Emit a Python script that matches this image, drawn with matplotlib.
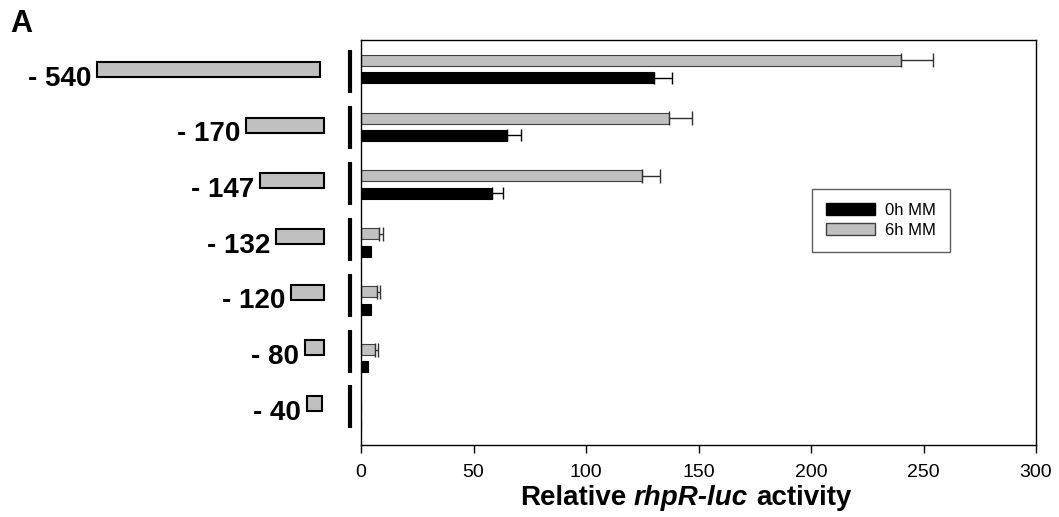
import numpy as np
import matplotlib
matplotlib.use('Agg')
import matplotlib.pyplot as plt
from matplotlib.patches import Patch, Rectangle

plt.rcParams['font.family'] = ['Liberation Sans', 'DejaVu Sans']

# promoter deletion constructs (top to bottom)
constructs = ['- 540', '- 170', '- 147', '- 132', '- 120', '- 80', '- 40']
# relative rhpR-luc activity
mm0 = [130, 65, 58, 4.5, 4.4, 3.2, 0]
mm0_err = [8, 6, 5, 0, 0, 0, 0]
mm6 = [240, 137, 125, 8.2, 7.3, 6.4, 0]
mm6_err = [14, 10, 8, 1.5, 1.2, 1.0, 0]
# left end of each promoter box in the diagram (pixels)
box_left = [97, 246, 260, 276, 291, 305, 307]
box_right = [320, 324, 324, 324, 324, 324, 322]

W, H = 1059, 517
fig = plt.figure(figsize=(W / 100, H / 100), dpi=100)


def px_rect(l, t, r, b):
    return [l / W, 1 - b / H, (r - l) / W, (b - t) / H]


# left diagram drawn in pixel coords
lax = fig.add_axes([0, 0, 1, 1])
lax.set_xlim(0, W)
lax.set_ylim(H, 0)
lax.axis('off')
for i, name in enumerate(constructs):
    cy = 69.5 + 55.67 * i
    lax.add_patch(Rectangle((box_left[i], cy - 7.5), box_right[i] - box_left[i], 15,
                            facecolor='#c0c0c0', edgecolor='black', lw=1.5))
    lax.text(box_left[i] - 6, cy + 16, name, ha='right', va='baseline',
             fontsize=20, fontweight='bold')
    by = 71.5 + 55.9 * i
    lax.plot([350, 350], [by - 21.5, by + 21.5], color='black', lw=3,
             solid_capstyle='butt')

fig.text(10 / W, 1 - 32 / H, 'A', fontsize=22, fontweight='bold', va='baseline')

ax = fig.add_axes(px_rect(361, 40, 1036, 445))
y = np.arange(len(constructs))
mm0 = np.array(mm0, float)
mm6 = np.array(mm6, float)
mm0_err = np.array(mm0_err, float)
mm6_err = np.array(mm6_err, float)

ax.barh(y - 0.15, mm6, height=0.19, color='#c0c0c0', edgecolor='#404040', lw=0.8)
ax.barh(y + 0.15, mm0, height=0.19, color='black', edgecolor='black', lw=0.8)

m = mm6_err > 0
ax.errorbar(mm6[m], y[m] - 0.15, xerr=[np.zeros(m.sum()), mm6_err[m]], fmt='none',
            ecolor='#303030', elinewidth=1, capsize=4.7, capthick=1)
m = mm0_err > 0
ax.errorbar(mm0[m], y[m] + 0.15, xerr=[np.zeros(m.sum()), mm0_err[m]], fmt='none',
            ecolor='black', elinewidth=1, capsize=4.5, capthick=1)

ax.set_xlim(0, 300)
ax.set_ylim(len(constructs) - 0.5, -0.5)
ax.set_yticks([])
ax.set_xticks(range(0, 301, 50))
ax.tick_params(axis='x', direction='out', length=6, width=1, labelsize=14, pad=8)
for s in ax.spines.values():
    s.set_linewidth(1)

leg = fig.legend([Patch(facecolor='black', edgecolor='black'),
                  Patch(facecolor='#c0c0c0', edgecolor='#404040')],
                 ['0h MM', '6h MM'], loc='upper left',
                 bbox_to_anchor=(812 / W, 1 - 189 / H), bbox_transform=fig.transFigure,
                 borderaxespad=0, fancybox=False, edgecolor='#333333', fontsize=12,
                 handlelength=2.9, handleheight=0.72, handletextpad=0.65,
                 borderpad=0.85, labelspacing=0.3)
leg.get_frame().set_linewidth(1)

# x label with italic gene name
parts = [('Relative', 'normal'), ('rhpR-luc', 'italic'), ('activity', 'normal')]
texts = [fig.text(0, 1 - 505 / H, p, fontsize=20, fontweight='bold', style=st,
                  va='baseline') for p, st in parts]
fig.canvas.draw()
r = fig.canvas.get_renderer()
x0 = 520
for t in texts:
    t.set_x(x0 / W)
    x0 += t.get_window_extent(renderer=r).width + 7.7

fig.savefig('out.png', dpi=100)
